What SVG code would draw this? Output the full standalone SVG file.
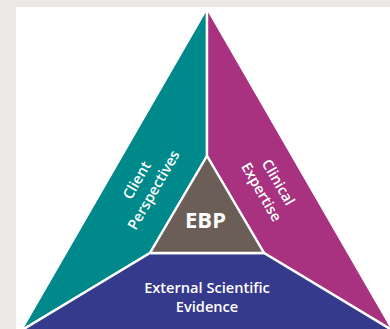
<svg xmlns="http://www.w3.org/2000/svg" width="390" height="329" viewBox="0 0 390 329">
  <style>
    .seg { stroke: #ffffff; stroke-width: 2.4; stroke-linejoin: round; }
    .lbl { fill: #ffffff; font-family: "Open Sans", "Liberation Sans", sans-serif; font-weight: 600; font-size: 14.6px; text-anchor: middle; }
    .core { fill: #ffffff; font-family: "Open Sans", "Liberation Sans", sans-serif; font-weight: 700; font-size: 22px; text-anchor: middle; }
  </style>
  <rect x="0" y="0" width="390" height="329" fill="#EAE9E5"/>
  <rect x="16" y="7" width="374" height="322" fill="#ffffff"/>

  <g id="client-perspectives">
    <polygon class="seg" fill="#00898A" points="207,8 207,156 150,253 20.6,331"/>
    <text class="lbl" transform="translate(145,185) rotate(-60)"><tspan x="0" y="-4.5">Client</tspan><tspan x="0" y="15">Perspectives</tspan></text>
  </g>

  <g id="clinical-expertise">
    <polygon class="seg" fill="#A8327F" points="207,8 393.4,331 264,253 207,156"/>
    <text class="lbl" transform="translate(270,187) rotate(60)"><tspan x="0" y="-4.5">Clinical</tspan><tspan x="0" y="15">Expertise</tspan></text>
  </g>

  <g id="external-evidence">
    <polygon class="seg" fill="#363A8C" points="150,253 264,253 393.4,331 20.6,331"/>
    <text class="lbl"><tspan x="207" y="292.5">External Scientific</tspan><tspan x="207" y="312">Evidence</tspan></text>
  </g>

  <g id="ebp">
    <polygon class="seg" fill="#6A5E57" points="207,156 264,253 150,253"/>
    <text class="core" x="205.5" y="227.5">EBP</text>
  </g>
</svg>
